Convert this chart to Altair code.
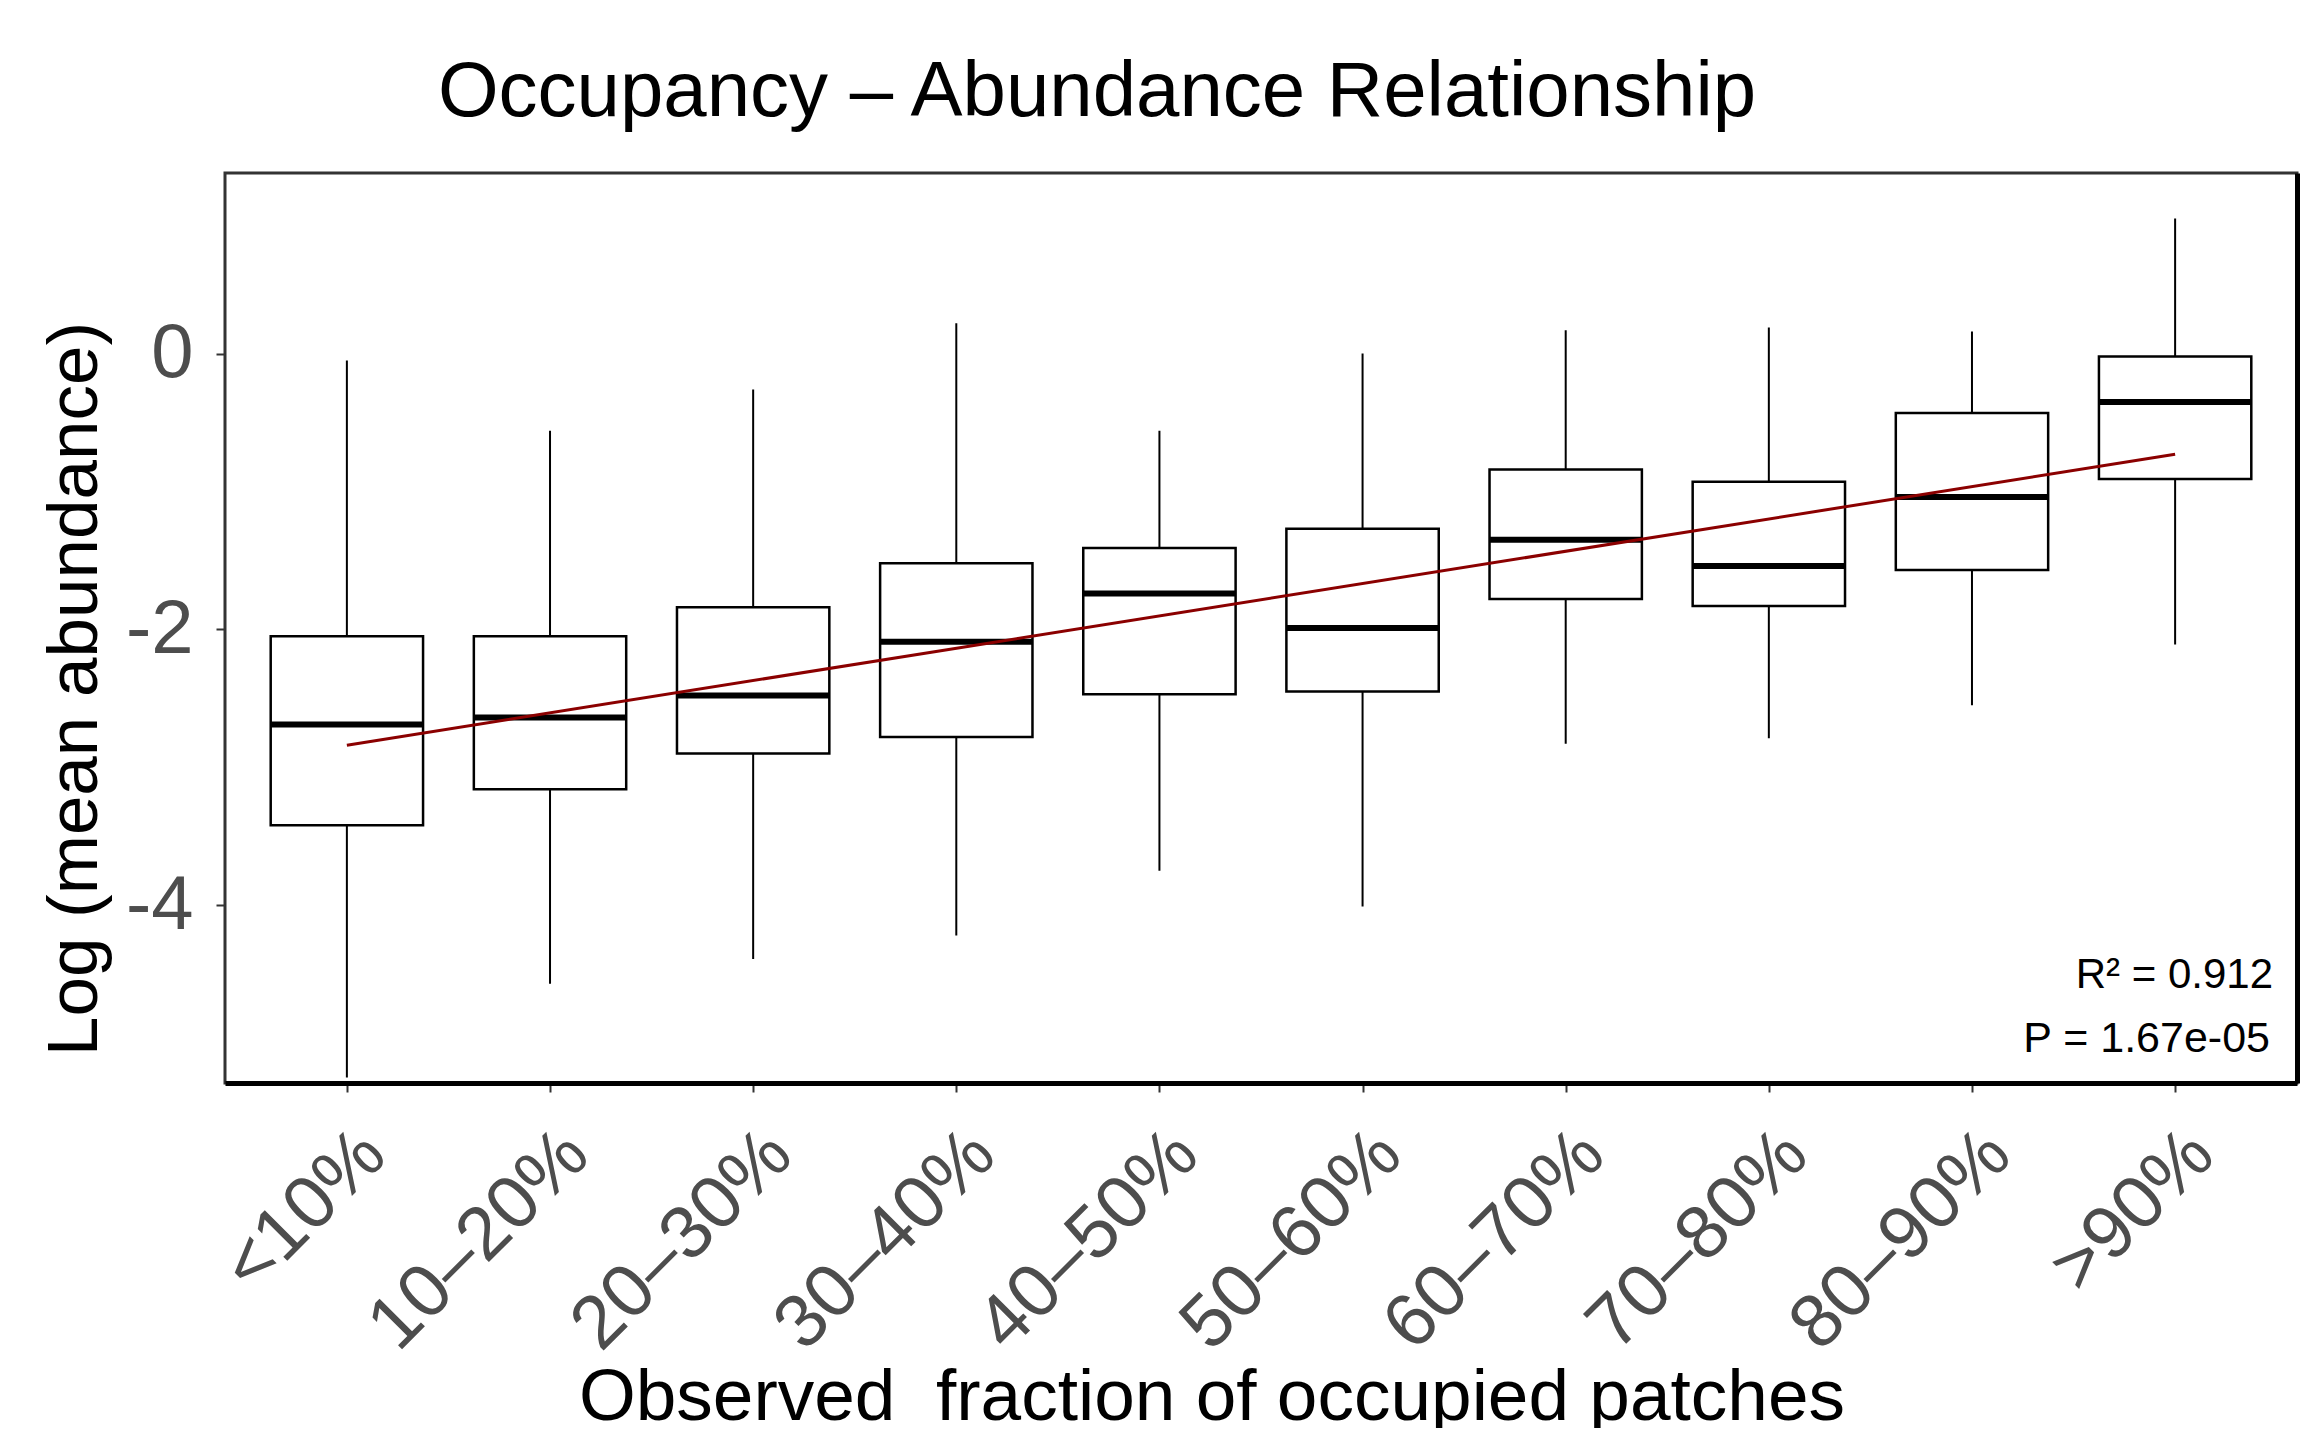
import json
import altair as alt
import pandas as pd

# ---- data ----
categories = ["<10%", "10–20%", "20–30%", "30–40%", "40–50%",
              "50–60%", "60–70%", "70–80%", "80–90%", ">90%"]
whisker_low = [-5.25, -4.57, -4.39, -4.22, -3.75, -4.01, -2.83, -2.79, -2.55, -2.11]
q1 = [-3.42, -3.16, -2.90, -2.78, -2.47, -2.45, -1.78, -1.83, -1.57, -0.91]
median = [-2.69, -2.64, -2.48, -2.09, -1.74, -1.99, -1.35, -1.54, -1.04, -0.35]
q3 = [-2.05, -2.05, -1.84, -1.52, -1.41, -1.27, -0.84, -0.93, -0.43, -0.02]
whisker_high = [-0.05, -0.56, -0.26, 0.22, -0.56, 0.00, 0.17, 0.19, 0.16, 0.98]
fit_pos = [1, 10]
fit_val = [-2.84, -0.73]
y_ticks = [-4, -2, 0]

title_text = "Occupancy – Abundance Relationship"
x_title = "Observed\u00a0 fraction of occupied patches"
y_title = "Log (mean abundance)"
annotations = ["R² = 0.912", "P = 1.67e-05"]

FONT = "Liberation Sans"
W, H = 2072, 910

df = pd.DataFrame({
    "pos": list(range(1, len(categories) + 1)),
    "category": categories,
    "whisker_low": whisker_low,
    "q1": q1,
    "median": median,
    "q3": q3,
    "whisker_high": whisker_high,
})
fit_df = pd.DataFrame({"pos": fit_pos, "fit": fit_val})

x_scale = alt.Scale(domain=[0.4, 10.6], nice=False, zero=False)
y_scale = alt.Scale(domain=[-5.29, 1.31], nice=False, zero=False)

x_axis = alt.Axis(
    values=list(range(1, len(categories) + 1)),
    labelExpr=json.dumps(categories, ensure_ascii=False) + "[datum.value - 1]",
    title=None, grid=False,
    domain=True, domainColor="black", domainWidth=5,
    ticks=True, tickSize=9, tickWidth=2, tickColor="#333333",
    labelAngle=-45, labelAlign="right", labelBaseline="alphabetic",
    labelPadding=66, labelOffset=42,
    labelFontSize=75, labelFont=FONT, labelColor="#4D4D4D",
    labelOverlap=False, labelLimit=0, labelFlush=False,
)
y_axis = alt.Axis(
    values=y_ticks, labelExpr="'' + datum.value",
    title=None, grid=False, domain=False,
    ticks=True, tickSize=9, tickWidth=2, tickColor="#333333",
    labelPadding=23, labelFontSize=76, labelFont=FONT, labelColor="#4D4D4D",
    labelBaseline="middle", labelOverlap=False, labelLimit=0,
)
y_axis_right = alt.Axis(
    orient="right", title=None, grid=False, labels=False, ticks=False,
    domain=True, domainColor="black", domainWidth=5,
)

base = alt.Chart(df)

whiskers = base.mark_rule(color="black", strokeWidth=2).encode(
    x=alt.X("pos:Q", scale=x_scale, axis=x_axis),
    y=alt.Y("whisker_low:Q", scale=y_scale, axis=y_axis),
    y2="whisker_high:Q",
)

boxes = base.transform_calculate(
    xl="datum.pos - 0.375", xr="datum.pos + 0.375"
).mark_rect(fill="white", stroke="black", strokeWidth=2.5).encode(
    x=alt.X("xl:Q", scale=x_scale, axis=None),
    x2="xr:Q",
    y=alt.Y("q1:Q", scale=y_scale, axis=None),
    y2="q3:Q",
)

medians = base.transform_calculate(
    xl="datum.pos - 0.375", xr="datum.pos + 0.375"
).mark_rule(color="black", strokeWidth=6).encode(
    x=alt.X("xl:Q", scale=x_scale, axis=None),
    x2="xr:Q",
    y=alt.Y("median:Q", scale=y_scale, axis=y_axis_right),
)

fit_line = alt.Chart(fit_df).mark_line(color="#8B0000", strokeWidth=3).encode(
    x=alt.X("pos:Q", scale=x_scale, axis=None),
    y=alt.Y("fit:Q", scale=y_scale, axis=None),
)


def label(text, x, y, size, align="center", angle=0, color="black"):
    return alt.Chart(pd.DataFrame({"t": [text]})).mark_text(
        font=FONT, fontSize=size, align=align, baseline="alphabetic",
        angle=angle, color=color,
    ).encode(x=alt.value(x), y=alt.value(y), text="t:N")


title_mark = label(title_text, 872, -57, 78)
x_title_mark = label(x_title, 987, 1247, 73)
y_title_mark = label(y_title, -128, 516, 71, angle=270)
ann1 = label(annotations[0], 2048, 815, 42, align="right")
ann2 = label(annotations[1], 2045, 879, 43, align="right")

chart = alt.layer(
    whiskers, boxes, medians, fit_line,
    ann1, ann2, title_mark, x_title_mark, y_title_mark,
).resolve_axis(x="independent", y="independent").properties(
    width=W, height=H,
    autosize=alt.AutoSizeParams(type="none"),
    padding={"left": 217, "top": 165, "right": 10, "bottom": 345},
    background="white",
).configure_view(stroke="#333333", strokeWidth=3)

chart.save("out.html", embed_options={"renderer": "svg", "actions": False})
